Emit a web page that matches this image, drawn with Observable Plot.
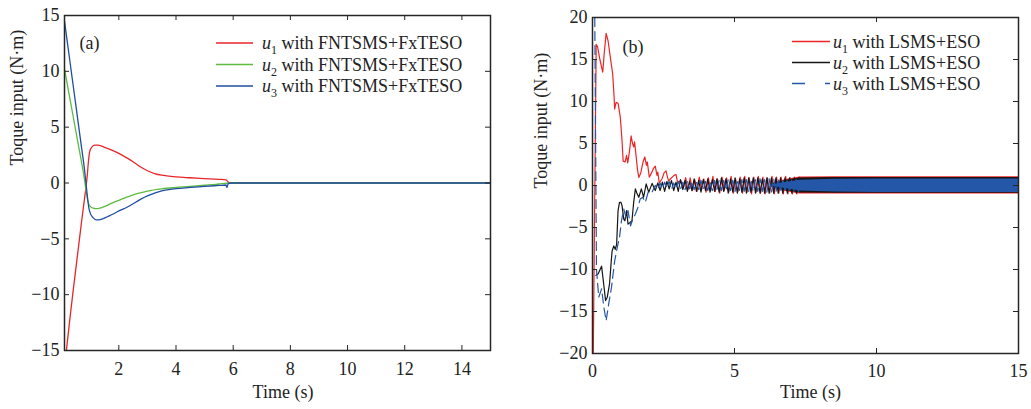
<!DOCTYPE html>
<html><head><meta charset="utf-8">
<script src="https://cdn.jsdelivr.net/npm/d3@7"></script>
<script src="https://cdn.jsdelivr.net/npm/@observablehq/plot@0.6"></script>
<style>
body{margin:0;background:#fff;}
#wrap{display:flex;width:1031px;height:409px;overflow:hidden;}
svg{display:block}
</style></head><body><div id="wrap"></div>
<script>
// ---------- Panel (a) data: [time, torque] ----------
const xTicksA = [2, 4, 6, 8, 10, 12, 14];
const yTicksA = [-15, -10, -5, 0, 5, 10, 15];
const u1A = [[0.1,-16.6],[0.2,-14.2],[0.3,-11.9],[0.4,-9.7],[0.5,-7.6],[0.6,-5.5],[0.7,-3.4],[0.8,-1.4],[0.86,-0.2],[0.9,0.8],[0.94,2.0],[0.98,2.8],[1.05,3.2],[1.15,3.4],[1.25,3.4],[1.5,3.2],[1.75,2.95],[2.0,2.65],[2.25,2.3],[2.5,1.9],[2.75,1.45],[3.0,1.1],[3.25,0.85],[3.5,0.7],[3.75,0.62],[4.0,0.55],[4.5,0.47],[5.0,0.4],[5.5,0.33],[5.75,0.28],[5.82,0.1],[5.85,0],[15,0]];
const u2A = [[0.1,10.2],[0.2,8.8],[0.3,7.4],[0.4,6.0],[0.5,4.6],[0.6,3.2],[0.7,1.8],[0.8,0.3],[0.85,-0.6],[0.9,-1.4],[0.95,-1.9],[1.0,-2.1],[1.1,-2.25],[1.25,-2.3],[1.4,-2.2],[1.6,-2.0],[1.8,-1.75],[2.0,-1.55],[2.3,-1.25],[2.6,-0.98],[3.0,-0.72],[3.5,-0.52],[4.0,-0.4],[4.5,-0.3],[5.0,-0.2],[5.4,-0.12],[5.6,-0.05],[6.0,0],[15,0]];
const u3A = [[0.1,14.5],[0.2,12.6],[0.3,10.7],[0.4,8.8],[0.5,6.9],[0.6,5.0],[0.7,3.1],[0.8,1.2],[0.85,0.0],[0.9,-1.2],[0.95,-2.2],[1.0,-2.7],[1.1,-3.1],[1.2,-3.3],[1.3,-3.3],[1.45,-3.2],[1.6,-3.02],[1.8,-2.78],[2.0,-2.5],[2.3,-2.15],[2.6,-1.7],[2.8,-1.4],[3.0,-1.15],[3.25,-0.9],[3.5,-0.7],[4.0,-0.5],[4.5,-0.4],[5.0,-0.3],[5.5,-0.22],[5.75,-0.18],[5.78,-0.4],[5.82,-0.1],[5.9,0],[15,0]];

// ---------- Panel (b) data ----------
const xTicksB = [0, 5, 10, 15];
const yTicksB = [-20, -15, -10, -5, 0, 5, 10, 15, 20];
const u1B = [[0.0,-30],[0.13,16.8],[0.18,16.5],[0.26,15.0],[0.36,13.5],[0.42,16.0],[0.48,18.1],[0.55,17.2],[0.63,15.2],[0.71,13.3],[0.76,10.6],[0.78,9.1],[0.83,9.9],[0.9,9.8],[0.98,8.1],[1.04,5.3],[1.08,2.9],[1.15,2.8],[1.2,3.6],[1.24,2.7],[1.3,4.0],[1.36,5.9],[1.41,5.0],[1.45,4.6],[1.48,5.2],[1.52,4.0],[1.58,2.0],[1.63,0.95],[1.7,1.5],[1.78,2.8],[1.84,3.4],[1.9,2.4],[1.93,2.8],[2.0,1.0],[2.08,1.5],[2.14,2.0],[2.21,2.3],[2.27,1.2],[2.3,1.6],[2.35,0.3],[2.45,0.8],[2.52,1.5],[2.59,1.75],[2.64,1.0],[2.68,0.55],[2.75,0.8],[2.87,1.2],[2.94,1.3],[3.0,0.3],[3.1,0.6],[3.2,-0.3],[3.28,0.95]];
const u2B = [[0.12,-10.7],[0.2,-10.5],[0.32,-9.6],[0.4,-11.9],[0.46,-13.7],[0.52,-13.3],[0.6,-11.7],[0.66,-9.0],[0.69,-7.8],[0.75,-7.2],[0.8,-7.6],[0.85,-7.0],[0.9,-3.0],[0.95,-2.0],[1.0,-2.0],[1.04,-2.4],[1.1,-4.0],[1.14,-4.2],[1.2,-3.0],[1.25,-4.6],[1.32,-4.4],[1.39,-4.2],[1.45,-2.0],[1.51,-0.4],[1.56,-0.9],[1.63,-1.4],[1.72,-0.4],[1.8,-1.4],[1.89,0.2],[1.98,-0.8],[2.1,0.25],[2.21,-0.6]];
const u3B = [[0.06,30],[0.14,-10],[0.22,-13.3],[0.32,-12.3],[0.4,-14.5],[0.48,-16.1],[0.57,-14.1],[0.67,-12.1],[0.78,-9.0],[0.87,-7.4],[0.95,-6.2],[1.02,-4.2],[1.1,-2.8],[1.18,-3.8],[1.25,-3.0],[1.34,-4.8],[1.42,-4.0],[1.51,-3.4],[1.6,-2.6],[1.68,-1.6],[1.77,-1.4],[1.86,-2.0],[1.96,-0.8],[2.08,-0.9],[2.21,0]];
// chattering samples (alternating peaks), sampled every oscStep seconds
const oscStep = 0.08;
const u1OscStart = 3.36;
const u1Osc = [-0.5,0.9,-0.6,0.7,-0.7,1.0,-0.5,0.8,-0.8,0.9,-0.6,1.1,-0.7,0.8,-0.9,1.0,-0.6,0.9,-0.8,1.1,-0.9,0.8,-0.7,1.0,-0.9,1.1,-0.8,0.9,-1.0,1.0,-0.8,1.1,-0.9,1.0,-1.0,0.9,-0.9,1.1,-1.0,1.0,-0.9,1.0,-1.0,1.1,-1.0,0.9,-1.0,1.0,-1.0,1.0];
const u2OscStart = 2.3;
const u2Osc = [0.3,-0.6,0.4,-0.7,0.5,-0.4,0.6,-0.6,0.4,-0.7,0.7,-0.5,0.6,-0.7,0.5,-0.6,0.8,-0.7,0.6,-0.8,0.7,-0.6,0.8,-0.8,0.7,-0.7,0.8,-0.8,0.9,-0.7,0.8,-0.9,0.8,-0.8,0.9,-0.9,0.8,-0.8,0.9,-0.9,0.9,-0.8,0.9,-0.9,0.9,-0.9,0.8,-0.9,0.9,-0.9,0.9,-0.9,0.9,-0.9,0.9,-0.9,0.9,-0.9,0.9,-0.9,0.9,-0.9,0.9];
const u3OscStart = 2.3;
const u3Osc = [-0.5,0.3,-0.4,0.4,-0.3,0.5,-0.5,0.3,-0.4,0.5,-0.4,0.4,-0.5,0.5,-0.4,0.5,-0.5,0.4,-0.5,0.6,-0.5,0.5,-0.6,0.5,-0.6,0.6,-0.5,0.6,-0.6,0.6,-0.6,0.7,-0.6,0.6,-0.7,0.7,-0.6,0.7,-0.7,0.7,-0.7,0.7,-0.7,0.7,-0.7,0.8,-0.7,0.7,-0.8,0.8,-0.8,0.8,-0.8,0.8,-0.8,0.8,-0.8,0.8,-0.8,0.8,-0.8,0.8,-0.8];
// dense steady-state band envelopes
const bandT    = [6.3, 6.8, 7.3, 8.5, 10.0, 15.0];
const u1BandHi = [0.2, 0.7, 1.0, 1.05, 1.05, 1.05];
const u1BandLo = [-0.2, -0.7, -1.0, -1.02, -1.02, -1.02];
const u2BandHi = [0.15, 0.6, 0.9, 0.94, 0.94, 0.94];
const u2BandLo = [-0.15, -0.6, -0.9, -0.92, -0.92, -0.92];
const u3BandHi = [0.05, 0.35, 0.62, 0.74, 0.78, 0.78];
const u3BandLo = [-0.05, -0.35, -0.66, -0.78, -0.82, -0.82];

const FONT = "'Liberation Serif','Times New Roman',Times,serif";
const fmt = d => d < 0 ? "\u2212" + (-d) : String(d);
const FRAME = "#262626";
const H = 409;

function withOsc(tr, start, vals) {
  return tr.concat(vals.map((v, i) => [start + i * oscStep, v]));
}
function band(hi, lo) { return bandT.map((t, i) => ({t, hi: hi[i], lo: lo[i]})); }

function panel(o) {
  const innerW = o.width - o.ml - o.mr, innerH = H - o.mt - o.mb;
  const txt = {fontSize: 18, fill: "#222", fontWeight: "normal"};
  const marks = [
    ...o.marks,
    Plot.tickX(o.xTicks, {x: d => d, insetTop: innerH - 5, stroke: FRAME}),
    Plot.tickX(o.xTicks, {x: d => d, insetBottom: innerH - 5, stroke: FRAME}),
    Plot.tickY(o.yTicks, {y: d => d, insetRight: innerW - 5, stroke: FRAME}),
    Plot.tickY(o.yTicks, {y: d => d, insetLeft: innerW - 5, stroke: FRAME}),
    Plot.frame({stroke: FRAME, strokeWidth: 1.5}),
    Plot.axisX(o.xTicks, {tickSize: 0, tickPadding: o.xPad, tickFormat: fmt, label: null, ...txt}),
    Plot.axisY(o.yTicks, {tickSize: 0, tickPadding: 5, tickFormat: fmt, label: null, ...txt}),
    Plot.text([o.tag], {frameAnchor: "top-left", textAnchor: "start", dx: o.tagDx, dy: o.tagDy, ...txt}),
    Plot.text(["Time (s)"], {frameAnchor: "bottom", dx: o.xlDx, dy: o.xlDy, ...txt}),
    Plot.text(["Toque input (N\u00b7m)"], {frameAnchor: "left", rotate: -90, dx: o.ylDx, dy: o.ylDy, ...txt})
  ];
  const svg = Plot.plot({
    width: o.width, height: H,
    marginLeft: o.ml, marginRight: o.mr, marginTop: o.mt, marginBottom: o.mb,
    x: {domain: o.xDomain}, y: {domain: o.yDomain},
    style: {fontFamily: FONT, fontSize: "18px", background: "white", color: "#222"},
    marks
  });
  // legend
  const g = d3.select(svg).append("g").attr("font-family", FONT).attr("font-size", 18)
    .attr("fill", "#222").attr("text-anchor", "start");
  o.legend.forEach((it, i) => {
    const y = o.legY[i];
    g.append("line").attr("x1", o.legX0).attr("x2", o.legX1).attr("y1", y).attr("y2", y)
      .attr("stroke", it.color).attr("stroke-width", 1.4).attr("stroke-dasharray", it.dash || null);
    const t = g.append("text").attr("x", o.legTx).attr("y", y + 6).attr("text-anchor", "start");
    t.append("tspan").attr("font-style", "italic").text("u");
    t.append("tspan").attr("font-size", 12).attr("dy", 5).text(it.idx);
    t.append("tspan").attr("dy", -5).text(" with " + it.method);
  });
  return svg;
}

const L = d => d[0], V = d => d[1];
const redA = "#e8262a", greenA = "#5dbb3f", blueA = "#1f4ea3";
const redB = "#ee2426", blackB = "#161616", blueB = "#2457a8";

const left = panel({
  width: 515, ml: 64, mr: 25, mt: 15, mb: 59,
  xDomain: [0.1, 15], yDomain: [-15, 15], xTicks: xTicksA, yTicks: yTicksA, xPad: 12,
  tag: "(a)", tagDx: 15, tagDy: 21, xlDx: 5.5, xlDy: 47, ylDx: -47, ylDy: -17.5,
  marks: [
    Plot.line(u1A, {x: L, y: V, stroke: redA, strokeWidth: 1.3, clip: true, curve: "monotone-x"}),
    Plot.line(u2A, {x: L, y: V, stroke: greenA, strokeWidth: 1.3, clip: true, curve: "monotone-x"}),
    Plot.line(u3A, {x: L, y: V, stroke: blueA, strokeWidth: 1.3, clip: true, curve: "monotone-x"})
  ],
  legX0: 216, legX1: 253, legTx: 262, legY: [43, 64.5, 86],
  legend: [
    {color: redA, idx: "1", method: "FNTSMS+FxTESO"},
    {color: greenA, idx: "2", method: "FNTSMS+FxTESO"},
    {color: blueA, idx: "3", method: "FNTSMS+FxTESO"}
  ]
});

const right = panel({
  width: 516, ml: 77, mr: 13, mt: 17, mb: 56,
  xDomain: [0, 15], yDomain: [-20, 20], xTicks: xTicksB, yTicks: yTicksB, xPad: 10.5,
  tag: "(b)", tagDx: 30, tagDy: 23, xlDx: 5, xlDy: 44.3, ylDx: -51, ylDy: 3,
  marks: [
    Plot.areaY(band(u1BandHi, u1BandLo), {x: "t", y1: "lo", y2: "hi", fill: redB}),
    Plot.line(withOsc(u1B, u1OscStart, u1Osc), {x: L, y: V, stroke: redB, strokeWidth: 1.2, clip: true}),
    Plot.areaY(band(u2BandHi, u2BandLo), {x: "t", y1: "lo", y2: "hi", fill: blackB}),
    Plot.line(withOsc(u2B, u2OscStart, u2Osc), {x: L, y: V, stroke: blackB, strokeWidth: 1.2, clip: true}),
    Plot.areaY(band(u3BandHi, u3BandLo), {x: "t", y1: "lo", y2: "hi", fill: blueB}),
    Plot.line(withOsc(u3B, u3OscStart, u3Osc), {x: L, y: V, stroke: blueB, strokeWidth: 1.2, strokeDasharray: "9,5", clip: true})
  ],
  legX0: 277, legX1: 315, legTx: 318, legY: [41.5, 62.5, 83.5],
  legend: [
    {color: redB, idx: "1", method: "LSMS+ESO"},
    {color: blackB, idx: "2", method: "LSMS+ESO"},
    {color: blueB, idx: "3", method: "LSMS+ESO", dash: "13,20"}
  ]
});

document.getElementById("wrap").append(left, right);
</script></body></html>
